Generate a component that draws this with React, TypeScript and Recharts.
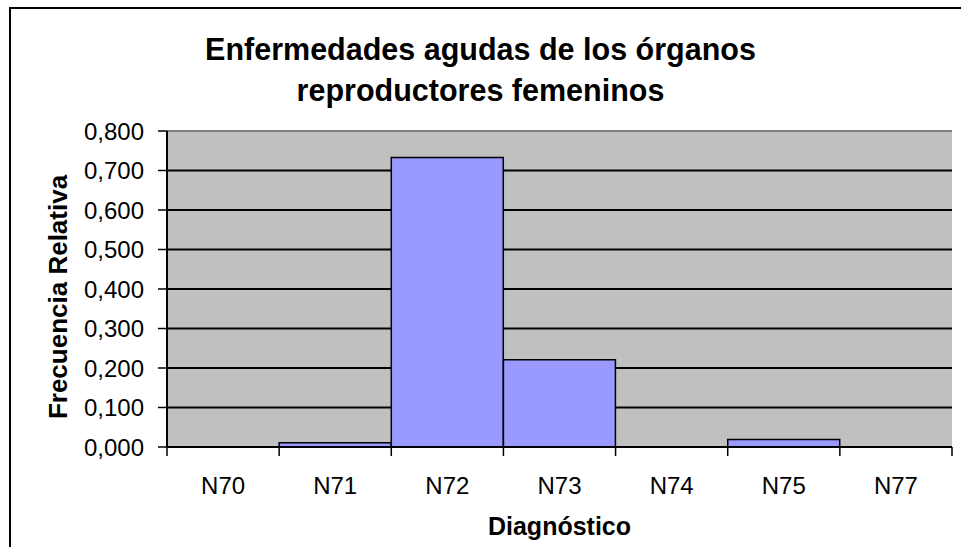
import { BarChart, Bar, XAxis, YAxis, CartesianGrid, ReferenceLine } from 'recharts'

const categories = ['N70', 'N71', 'N72', 'N73', 'N74', 'N75', 'N77']
const frecuencia = [0, 0.011, 0.733, 0.221, 0, 0.019, 0]
const yTicks = [0, 0.1, 0.2, 0.3, 0.4, 0.5, 0.6, 0.7, 0.8]

const data = categories.map((c, i) => ({ name: c, value: frecuencia[i] }))

const W = 961
const H = 547
const LEFT = 167
const RIGHT = 9
const TOP = 131
const BOTTOM = 100
const BAND = (W - LEFT - RIGHT) / categories.length
const FONT = 'Liberation Sans, Arial, sans-serif'

function XTick(props: any) {
  const { x, y, payload, index } = props
  const left = x - BAND / 2
  return (
    <g>
      <line x1={left} y1={y} x2={left} y2={y + 9} stroke="#000" strokeWidth={1.5} />
      {index === categories.length - 1 && (
        <line x1={x + BAND / 2} y1={y} x2={x + BAND / 2} y2={y + 9} stroke="#000" strokeWidth={1.5} />
      )}
      <text x={x} y={y + 47} textAnchor="middle" fontFamily={FONT} fontSize={24} fill="#000">
        {payload.value}
      </text>
    </g>
  )
}

export default function App() {
  const plotH = H - TOP - BOTTOM
  const yLabelY = TOP + plotH / 2 + 8
  return (
    <div style={{ position: 'absolute', left: 0, top: 0, width: W, height: H, overflow: 'hidden', background: '#fff' }}>
      <div style={{ position: 'absolute', left: 9, top: 7, width: 1000, height: 600, border: '2px solid #000' }} />
      <div style={{
        position: 'absolute', left: 0, top: 29, width: W, textAlign: 'center',
        fontFamily: FONT, fontWeight: 700, fontSize: 30.5, lineHeight: '41px', color: '#000',
      }}>
        Enfermedades agudas de los órganos<br />reproductores femeninos
      </div>
      <div style={{ position: 'absolute', left: 0, top: 0 }}>
        <BarChart width={W} height={H} data={data} margin={{ top: TOP, right: RIGHT, bottom: 0, left: 0 }} barCategoryGap={0}>
          <CartesianGrid vertical={false} fill="#C0C0C0" stroke="#000" strokeWidth={1.8} />
          <XAxis
            dataKey="name"
            height={BOTTOM}
            tickLine={false}
            tickSize={0}
            tickMargin={0}
            axisLine={{ stroke: '#000', strokeWidth: 2 }}
            tick={<XTick />}
            interval={0}
            label={{
              content: () => (
                <text x={LEFT + (W - LEFT - RIGHT) / 2} y={535} textAnchor="middle" fontFamily={FONT} fontWeight={700} fontSize={25} fill="#000">
                  Diagnóstico
                </text>
              ),
            }}
          />
          <YAxis
            width={LEFT}
            domain={[0, 0.8]}
            ticks={yTicks}
            tickFormatter={(v: number) => v.toFixed(3).replace('.', ',')}
            tickSize={9}
            tickMargin={14}
            tickLine={{ stroke: '#000', strokeWidth: 1.5 }}
            axisLine={{ stroke: '#000', strokeWidth: 2 }}
            tick={{ fill: '#000', fontFamily: FONT, fontSize: 24 }}
            label={{
              content: () => (
                <text x={58} y={yLabelY} transform={`rotate(-90, 58, ${yLabelY})`} textAnchor="middle" dominantBaseline="central" fontFamily={FONT} fontWeight={700} fontSize={26} fill="#000">
                  Frecuencia Relativa
                </text>
              ),
            }}
          />
          <YAxis yAxisId="r" orientation="right" width={0} domain={[0, 0.8]} tick={false} tickLine={false} axisLine={{ stroke: '#808080', strokeWidth: 2 }} />
          <ReferenceLine y={0.8} stroke="#808080" strokeWidth={2} />
          <Bar dataKey="value" fill="#9999FF" stroke="#000" strokeWidth={1.5} isAnimationActive={false} />
        </BarChart>
      </div>
    </div>
  )
}
